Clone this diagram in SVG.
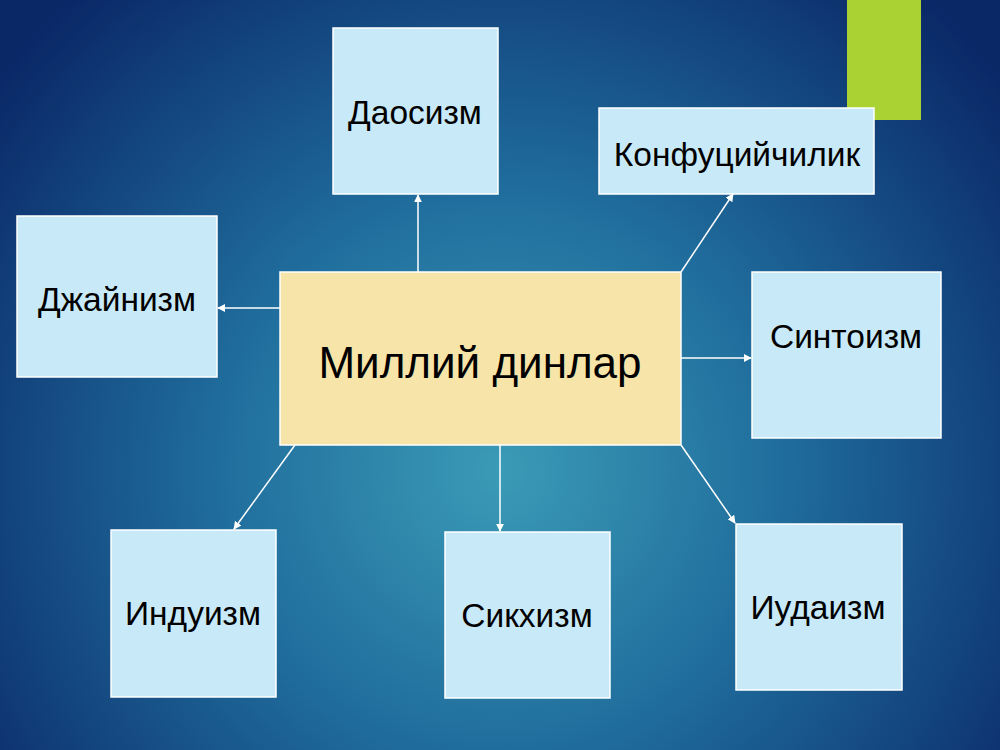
<svg xmlns="http://www.w3.org/2000/svg" width="1000" height="750" viewBox="0 0 1000 750">
<defs>
<radialGradient id="bg" cx="500" cy="470" r="640" gradientUnits="userSpaceOnUse">
<stop offset="0" stop-color="#3b9bb6"/>
<stop offset="0.45" stop-color="#1f6c9c"/>
<stop offset="1" stop-color="#0a2766"/>
</radialGradient>
<marker id="ah" viewBox="0 0 10 10" refX="9" refY="5" markerWidth="8" markerHeight="8" markerUnits="userSpaceOnUse" orient="auto">
<path d="M0,0 L10,5 L0,10 z" fill="#ffffff"/>
</marker>
<style>
.box{fill:#c8e9f7;stroke:#ffffff;stroke-width:1.5}
.main{fill:#f7e4a8;stroke:#ffffff;stroke-width:1.5}
.lbl{font-family:"Liberation Sans",Arial,sans-serif;font-size:33.5px;fill:#000000;text-anchor:middle;dominant-baseline:central}
.big{font-size:44px}
.conn line{stroke:#ffffff;stroke-width:1.5;marker-end:url(#ah)}
</style>
</defs>
<rect x="0" y="0" width="1000" height="750" fill="url(#bg)"/>
<rect x="847" y="0" width="74" height="120" fill="#a9d232"/>
<g id="connectors" class="conn">
<line x1="418" y1="272" x2="418" y2="195"/>
<line x1="280" y1="308" x2="218" y2="308"/>
<line x1="681" y1="272" x2="733" y2="194"/>
<line x1="681" y1="358" x2="751" y2="358"/>
<line x1="295" y1="445" x2="234" y2="529"/>
<line x1="500" y1="445" x2="500" y2="531"/>
<line x1="681" y1="445" x2="735" y2="523"/>
</g>
<g id="center">
<rect class="main" x="280" y="272" width="401" height="173"/>
<text class="lbl big" x="480" y="362">Миллий динлар</text>
</g>
<g id="daosizm">
<rect class="box" x="333" y="28" width="165" height="166"/>
<text class="lbl" x="415" y="112">Даосизм</text>
</g>
<g id="konfutsiy">
<rect class="box" x="599" y="108" width="275" height="86"/>
<text class="lbl" x="737" y="154">Конфуцийчилик</text>
</g>
<g id="jaynizm">
<rect class="box" x="17" y="216" width="200" height="161"/>
<text class="lbl" x="117" y="299">Джайнизм</text>
</g>
<g id="sintoizm">
<rect class="box" x="752" y="272" width="189" height="166"/>
<text class="lbl" x="846" y="336">Синтоизм</text>
</g>
<g id="induizm">
<rect class="box" x="111" y="530" width="165" height="167"/>
<text class="lbl" x="193" y="613">Индуизм</text>
</g>
<g id="sikhizm">
<rect class="box" x="445" y="532" width="165" height="166"/>
<text class="lbl" x="527" y="615">Сикхизм</text>
</g>
<g id="iudaizm">
<rect class="box" x="736" y="524" width="166" height="166"/>
<text class="lbl" x="818" y="607">Иудаизм</text>
</g>
</svg>
